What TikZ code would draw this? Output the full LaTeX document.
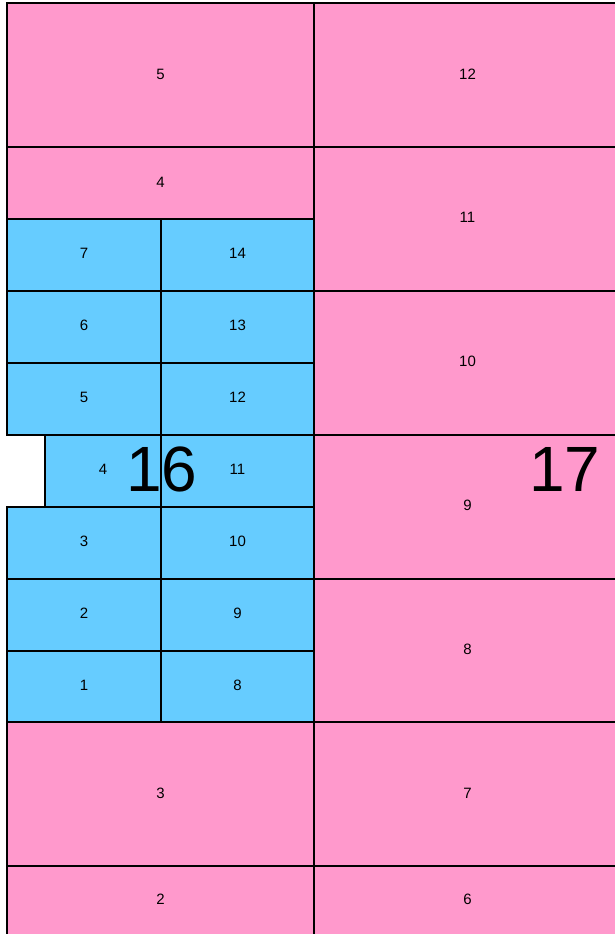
\documentclass[tikz,border=0pt]{standalone}
\usepackage{fontspec}
\setmainfont{Liberation Sans}
\definecolor{pinkc}{HTML}{FF99CC}
\definecolor{bluec}{HTML}{66CCFF}
\begin{document}
\begin{tikzpicture}[x=1pt,y=-1pt,
  pcell/.style={fill=pinkc,draw=black,line width=1.2pt},
  bcell/.style={fill=bluec,draw=black,line width=1.2pt},
  lbl/.style={font=\fontsize{15}{17}\selectfont,inner sep=0pt},
  big/.style={font=\fontsize{64}{70}\selectfont,inner sep=0pt}]
\useasboundingbox (0,0) rectangle (615,934);
\clip (0,0) rectangle (615,934);
% left pink
\path[pcell] (7,3) rectangle (314,147);
\path[pcell] (7,147) rectangle (314,219);
\path[pcell] (7,722) rectangle (314,866);
\path[pcell] (7,866) rectangle (314,1010);
% right pink
\path[pcell] (314,3) rectangle (621,147);
\path[pcell] (314,147) rectangle (621,291);
\path[pcell] (314,291) rectangle (621,435);
\path[pcell] (314,435) rectangle (621,579);
\path[pcell] (314,579) rectangle (621,722);
\path[pcell] (314,722) rectangle (621,866);
\path[pcell] (314,866) rectangle (621,1010);
% blue
\path[bcell] (7,219) rectangle (161,291);
\path[bcell] (161,219) rectangle (314,291);
\path[bcell] (7,291) rectangle (161,363);
\path[bcell] (161,291) rectangle (314,363);
\path[bcell] (7,363) rectangle (161,435);
\path[bcell] (161,363) rectangle (314,435);
\path[bcell] (45,435) rectangle (161,507);
\path[bcell] (161,435) rectangle (314,507);
\path[bcell] (7,507) rectangle (161,579);
\path[bcell] (161,507) rectangle (314,579);
\path[bcell] (7,579) rectangle (161,651);
\path[bcell] (161,579) rectangle (314,651);
\path[bcell] (7,651) rectangle (161,722);
\path[bcell] (161,651) rectangle (314,722);
% labels left
\node[lbl] (l5) at (160.5,74) {5};
\node[lbl] (l4) at (160.5,182) {4};
\node[lbl] (l3) at (160.5,793) {3};
\node[lbl] (l2) at (160.5,899.5) {2};
% labels right
\node[lbl] (r12) at (467.5,74) {12};
\node[lbl] (r11) at (467.5,217.5) {11};
\node[lbl] (r10) at (467.5,361.5) {10};
\node[lbl] (r9) at (467.5,505.5) {9};
\node[lbl] (r8) at (467.5,649) {8};
\node[lbl] (r7) at (467.5,793) {7};
\node[lbl] (r6) at (467.5,899.5) {6};
% blue labels
\node[lbl] (b7) at (84,253.5) {7};
\node[lbl] (b14) at (237.5,253.5) {14};
\node[lbl] (b6) at (84,325.5) {6};
\node[lbl] (b13) at (237.5,325.5) {13};
\node[lbl] (b5) at (84,397.5) {5};
\node[lbl] (b12) at (237.5,397.5) {12};
\node[lbl] (b4) at (103,469.5) {4};
\node[lbl] (b11) at (237.5,469.5) {11};
\node[lbl] (b3) at (84,541.5) {3};
\node[lbl] (b10) at (237.5,541.5) {10};
\node[lbl] (b2) at (84,613.5) {2};
\node[lbl] (b9) at (237.5,613.5) {9};
\node[lbl] (b1) at (84,685) {1};
\node[lbl] (b8) at (237.5,685) {8};
% big labels
\node[big] (g16) at (162,469) {16};
\node[big] (g17) at (565,469) {17};
\end{tikzpicture}
\end{document}
